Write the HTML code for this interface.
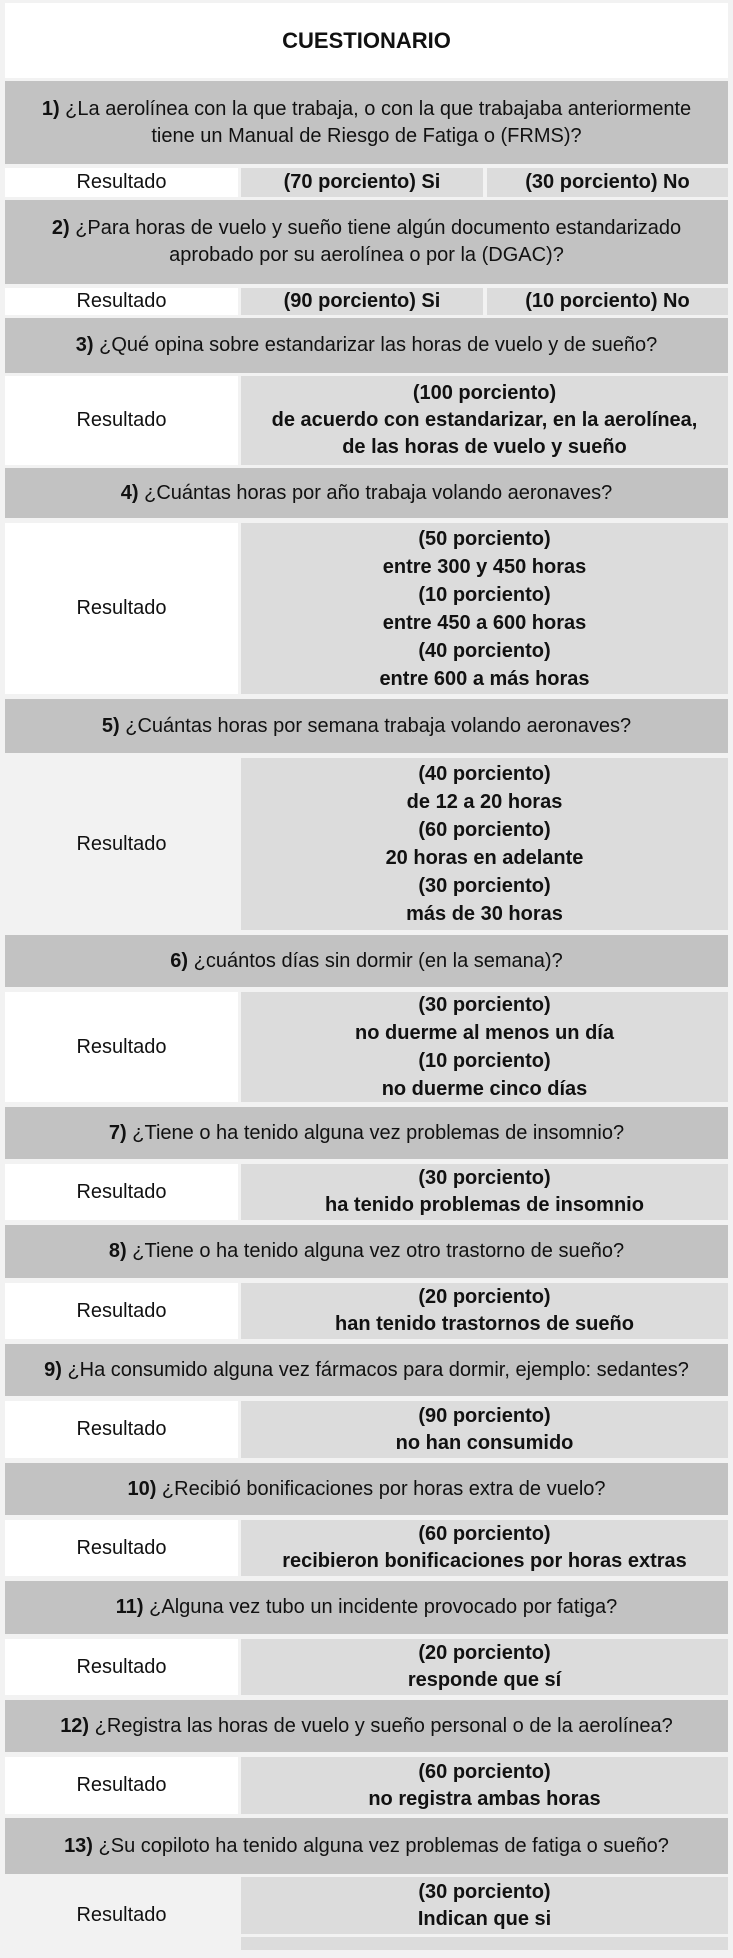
<!DOCTYPE html>
<html><head><meta charset="utf-8">
<style>
body{margin:0;width:733px;height:1958px;background:#f2f2f2;position:relative;overflow:hidden;
font-family:"Liberation Sans Narrow","Liberation Sans",sans-serif;color:#111;}
.b{position:absolute;display:flex;align-items:center;justify-content:center;text-align:center;font-size:20px;line-height:27px;}
.h{left:5px;width:723px;background:#c2c2c2;}
.w{left:5px;width:233px;background:#fff;}
.g{left:241px;width:487px;background:#dcdcdc;font-weight:bold;}
.g1{left:241px;width:242px;background:#dcdcdc;font-weight:bold;}
.g2{left:487px;width:241px;background:#dcdcdc;font-weight:bold;}
b{font-weight:bold}
</style></head><body>
<div class="b" style="left:5px;width:723px;top:3px;height:75px;background:#fff;font-weight:bold;font-size:22px;">CUESTIONARIO</div>

<div class="b h" style="top:81px;height:83px"><span><b>1)</b> ¿La aerolínea con la que trabaja, o con la que trabajaba anteriormente<br>tiene un Manual de Riesgo de Fatiga o (FRMS)?</span></div>
<div class="b w" style="top:168px;height:29px">Resultado</div>
<div class="b g1" style="top:168px;height:29px">(70 porciento) Si</div>
<div class="b g2" style="top:168px;height:29px">(30 porciento) No</div>

<div class="b h" style="top:200px;height:84px"><span><b>2)</b> ¿Para horas de vuelo y sueño tiene algún documento estandarizado<br>aprobado por su aerolínea o por la (DGAC)?</span></div>
<div class="b w" style="top:288px;height:27px">Resultado</div>
<div class="b g1" style="top:288px;height:27px">(90 porciento) Si</div>
<div class="b g2" style="top:288px;height:27px">(10 porciento) No</div>

<div class="b h" style="top:318px;height:55px"><span><b>3)</b> ¿Qué opina sobre estandarizar las horas de vuelo y de sueño?</span></div>
<div class="b w" style="top:376px;height:89px">Resultado</div>
<div class="b g" style="top:376px;height:89px"><span>(100 porciento)<br>de acuerdo con estandarizar, en la aerolínea,<br>de las horas de vuelo y sueño</span></div>

<div class="b h" style="top:468px;height:50px"><span><b>4)</b> ¿Cuántas horas por año trabaja volando aeronaves?</span></div>
<div class="b w" style="top:523px;height:171px">Resultado</div>
<div class="b g" style="top:523px;height:171px;line-height:28px"><span>(50 porciento)<br>entre 300 y 450 horas<br>(10 porciento)<br>entre 450 a 600 horas<br>(40 porciento)<br>entre 600 a más horas</span></div>

<div class="b h" style="top:699px;height:54px"><span><b>5)</b> ¿Cuántas horas por semana trabaja volando aeronaves?</span></div>
<div class="b w" style="top:758px;height:172px;background:#f2f2f2">Resultado</div>
<div class="b g" style="top:758px;height:172px;line-height:28px"><span>(40 porciento)<br>de 12 a 20 horas<br>(60 porciento)<br>20 horas en adelante<br>(30 porciento)<br>más de 30 horas</span></div>

<div class="b h" style="top:935px;height:52px"><span><b>6)</b> ¿cuántos días sin dormir (en la semana)?</span></div>
<div class="b w" style="top:992px;height:110px">Resultado</div>
<div class="b g" style="top:992px;height:110px;line-height:28px"><span>(30 porciento)<br>no duerme al menos un día<br>(10 porciento)<br>no duerme cinco días</span></div>

<div class="b h" style="top:1107px;height:52px"><span><b>7)</b> ¿Tiene o ha tenido alguna vez problemas de insomnio?</span></div>
<div class="b w" style="top:1164px;height:56px">Resultado</div>
<div class="b g" style="top:1164px;height:56px"><span>(30 porciento)<br>ha tenido problemas de insomnio</span></div>

<div class="b h" style="top:1225px;height:53px"><span><b>8)</b> ¿Tiene o ha tenido alguna vez otro trastorno de sueño?</span></div>
<div class="b w" style="top:1283px;height:56px">Resultado</div>
<div class="b g" style="top:1283px;height:56px"><span>(20 porciento)<br>han tenido trastornos de sueño</span></div>

<div class="b h" style="top:1344px;height:52px"><span><b>9)</b> ¿Ha consumido alguna vez fármacos para dormir, ejemplo: sedantes?</span></div>
<div class="b w" style="top:1401px;height:57px">Resultado</div>
<div class="b g" style="top:1401px;height:57px"><span>(90 porciento)<br>no han consumido</span></div>

<div class="b h" style="top:1463px;height:52px"><span><b>10)</b> ¿Recibió bonificaciones por horas extra de vuelo?</span></div>
<div class="b w" style="top:1520px;height:56px">Resultado</div>
<div class="b g" style="top:1520px;height:56px"><span>(60 porciento)<br>recibieron bonificaciones por horas extras</span></div>

<div class="b h" style="top:1581px;height:53px"><span><b>11)</b> ¿Alguna vez tubo un incidente provocado por fatiga?</span></div>
<div class="b w" style="top:1639px;height:56px">Resultado</div>
<div class="b g" style="top:1639px;height:56px"><span>(20 porciento)<br>responde que sí</span></div>

<div class="b h" style="top:1700px;height:52px"><span><b>12)</b> ¿Registra las horas de vuelo y sueño personal o de la aerolínea?</span></div>
<div class="b w" style="top:1757px;height:57px">Resultado</div>
<div class="b g" style="top:1757px;height:57px"><span>(60 porciento)<br>no registra ambas horas</span></div>

<div class="b h" style="top:1818px;height:56px"><span><b>13)</b> ¿Su copiloto ha tenido alguna vez problemas de fatiga o sueño?</span></div>
<div class="b w" style="top:1877px;height:76px;background:#f2f2f2">Resultado</div>
<div class="b g" style="top:1877px;height:57px"><span>(30 porciento)<br>Indican que si</span></div>
<div class="b g" style="top:1937px;height:13px"></div>
</body></html>
